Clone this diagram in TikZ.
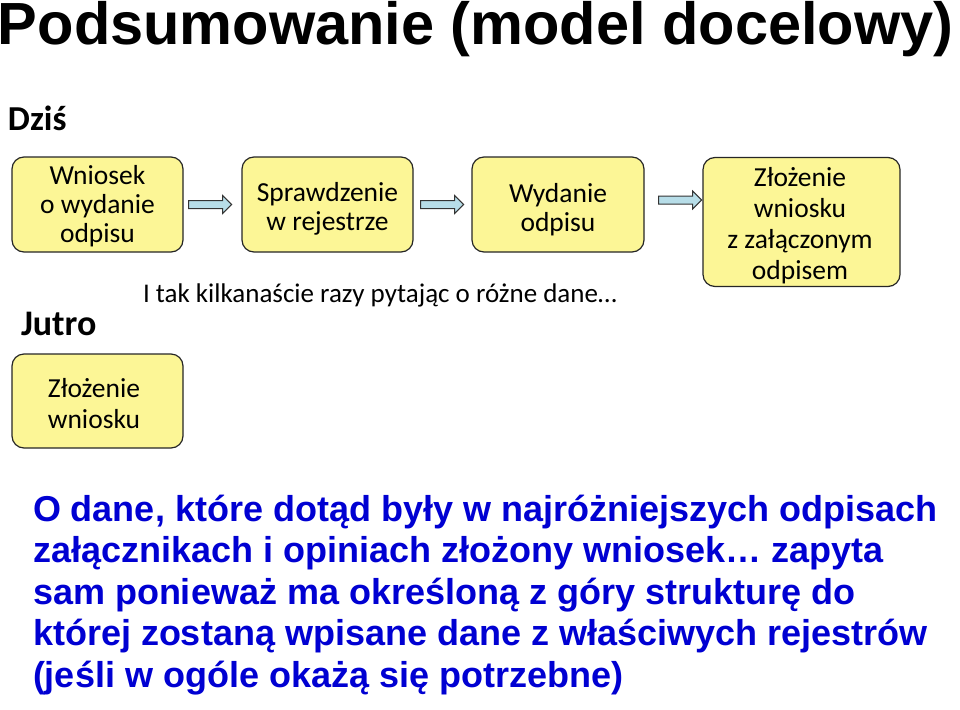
\documentclass[tikz,border=0pt]{standalone}
\usepackage{fontspec}
\setmainfont{Carlito}
\newfontfamily\arialfont{Liberation Sans}
\usetikzlibrary{shapes.arrows}
\definecolor{boxfill}{RGB}{252,246,150}
\definecolor{arrfill}{RGB}{183,221,232}
\definecolor{bodyblue}{RGB}{0,0,210}
\tikzset{
  stepbox/.style={draw=black!85, line width=1.2pt, fill=boxfill, rounded corners=12pt, inner sep=0pt},
  steptext/.style={anchor=base, align=center, inner sep=0pt, font=\fontsize{27.5}{29}\selectfont},
  flowarrow/.style={single arrow, draw=black!80, line width=1pt, fill=arrfill, text height=7pt, text depth=0pt, inner sep=0pt, single arrow head extend=5pt, single arrow tip angle=90, minimum height=43pt},
  plain/.style={inner sep=0pt, outer sep=0pt}
}
\begin{document}
\begin{tikzpicture}[x=1pt,y=-1pt]
\useasboundingbox (0,0) rectangle (960,709);
% title
\node[plain, anchor=base west, font=\arialfont\bfseries\fontsize{59.5}{62}\selectfont] (title) at (-2,45) {Podsumowanie (model docelowy)};
\node[plain, anchor=base west, font=\bfseries\fontsize{35}{38}\selectfont] (dzis) at (8,130) {Dziś};
\node[plain, anchor=base west, font=\bfseries\fontsize{36}{38}\selectfont] (jutro) at (21,335) {Jutro};
% boxes
\node[stepbox, minimum width=171pt, minimum height=95pt] (b1) at (97.5,204.5) {};
\node[stepbox, minimum width=171pt, minimum height=95pt] (b2) at (327.5,204.5) {};
\node[stepbox, minimum width=172pt, minimum height=95pt] (b3) at (558,204.5) {};
\node[stepbox, minimum width=197pt, minimum height=129pt] (b4) at (801.5,222) {};
\node[stepbox, minimum width=171pt, minimum height=94pt] (b5) at (97.5,401) {};
% box texts (anchored at the baseline of their last line)
\node[steptext] (t1) at (97.5,242) {Wniosek\\o wydanie\\odpisu};
\node[steptext] (t2) at (327.5,230) {Sprawdzenie\\w rejestrze};
\node[steptext] (t3) at (558,231) {Wydanie\\odpisu};
\node[steptext, font=\fontsize{27.5}{31}\selectfont] (t4) at (800,279) {Złożenie\\wniosku\\z załączonym\\odpisem};
\node[steptext, font=\fontsize{27.5}{31}\selectfont] (t5) at (94,428) {Złożenie\\wniosku};
% arrows
\node[flowarrow, anchor=east] (a1) at ([xshift=-9pt]b2.west) {};
\node[flowarrow, anchor=east] (a2) at ([xshift=-7pt]b3.west) {};
\node[flowarrow, anchor=east] (a3) at ([yshift=22pt]b4.west) {};
% note
\node[plain, anchor=base west, font=\fontsize{27}{31}\selectfont] (note) at (143,302) {I tak kilkanaście razy pytając o różne dane…};
% body text (anchored at the baseline of its last line)
\node[plain, anchor=base west, align=left, text=bodyblue, font=\arialfont\bfseries\fontsize{36}{41.5}\selectfont] (body) at (33,687) {O dane, które dotąd były w najróżniejszych odpisach\\załącznikach i opiniach złożony wniosek… zapyta\\sam ponieważ ma określoną z góry strukturę do\\której zostaną wpisane dane z właściwych rejestrów\\(jeśli w ogóle okażą się potrzebne)};
\end{tikzpicture}
\end{document}
